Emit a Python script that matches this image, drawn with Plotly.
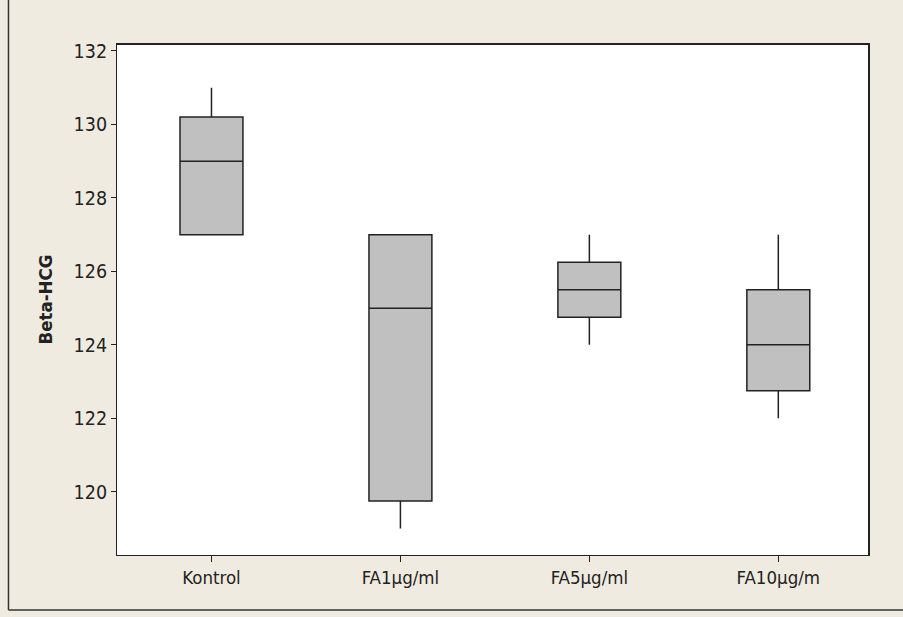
import plotly.graph_objects as go

# Group summary statistics for Beta-HCG
groups = ["Kontrol", "FA1µg/ml", "FA5µg/ml", "FA10µg/m"]
q1 = [127.0, 119.75, 124.75, 122.75]
median = [129.0, 125.0, 125.5, 124.0]
q3 = [130.2, 127.0, 126.25, 125.5]
lower_whisker = [127.0, 119.0, 124.0, 122.0]
upper_whisker = [131.0, 127.0, 127.0, 127.0]

y_ticks = [120, 122, 124, 126, 128, 130, 132]

fig = go.Figure()
fig.add_trace(go.Box(
    x=groups,
    q1=q1,
    median=median,
    q3=q3,
    lowerfence=lower_whisker,
    upperfence=upper_whisker,
    fillcolor="#c0c0c0",
    line=dict(color="#222222", width=1.5),
    width=0.333,
    whiskerwidth=0,
    boxpoints=False,
    hoverinfo="skip",
    showlegend=False,
))

font_family = "DejaVu Sans Condensed, Liberation Sans, sans-serif"

fig.update_layout(
    width=903,
    height=617,
    margin=dict(l=117, r=34, t=44, b=62),
    paper_bgcolor="#efebe0",
    plot_bgcolor="#ffffff",
    font=dict(family=font_family, size=19, color="#222222"),
    xaxis=dict(
        type="category",
        range=[-0.5, 3.48],
        showline=True, linecolor="#222222", linewidth=1, mirror=True,
        ticks="outside", ticklen=6, tickcolor="#222222", tickwidth=1,
        showgrid=False, zeroline=False,
        tickfont=dict(size=18.5),
    ),
    yaxis=dict(
        range=[118.28, 132.19],
        tickvals=y_ticks,
        showline=True, linecolor="#222222", linewidth=1, mirror=True,
        ticks="outside", ticklen=5, tickcolor="#222222", tickwidth=1,
        showgrid=False, zeroline=False,
        tickfont=dict(size=19.5),
        title=dict(text="<b>Beta-HCG</b>", font=dict(size=18.5), standoff=16),
    ),
    shapes=[
        # heavier top and right edges of the data region
        dict(type="line", xref="paper", yref="paper", x0=0, x1=1, y0=1, y1=1,
             line=dict(color="#222222", width=2)),
        dict(type="line", xref="paper", yref="paper", x0=1, x1=1, y0=0, y1=1,
             line=dict(color="#222222", width=2)),
        # outer frame around the graph
        dict(type="line", xref="paper", yref="paper", x0=-0.1443, x1=-0.1443,
             y0=-0.1076, y1=1.1, line=dict(color="#333333", width=1.5)),
        dict(type="line", xref="paper", yref="paper", x0=-0.1443, x1=1.06,
             y0=-0.1076, y1=-0.1076, line=dict(color="#333333", width=1.5)),
    ],
)

fig.write_html("out.html")
